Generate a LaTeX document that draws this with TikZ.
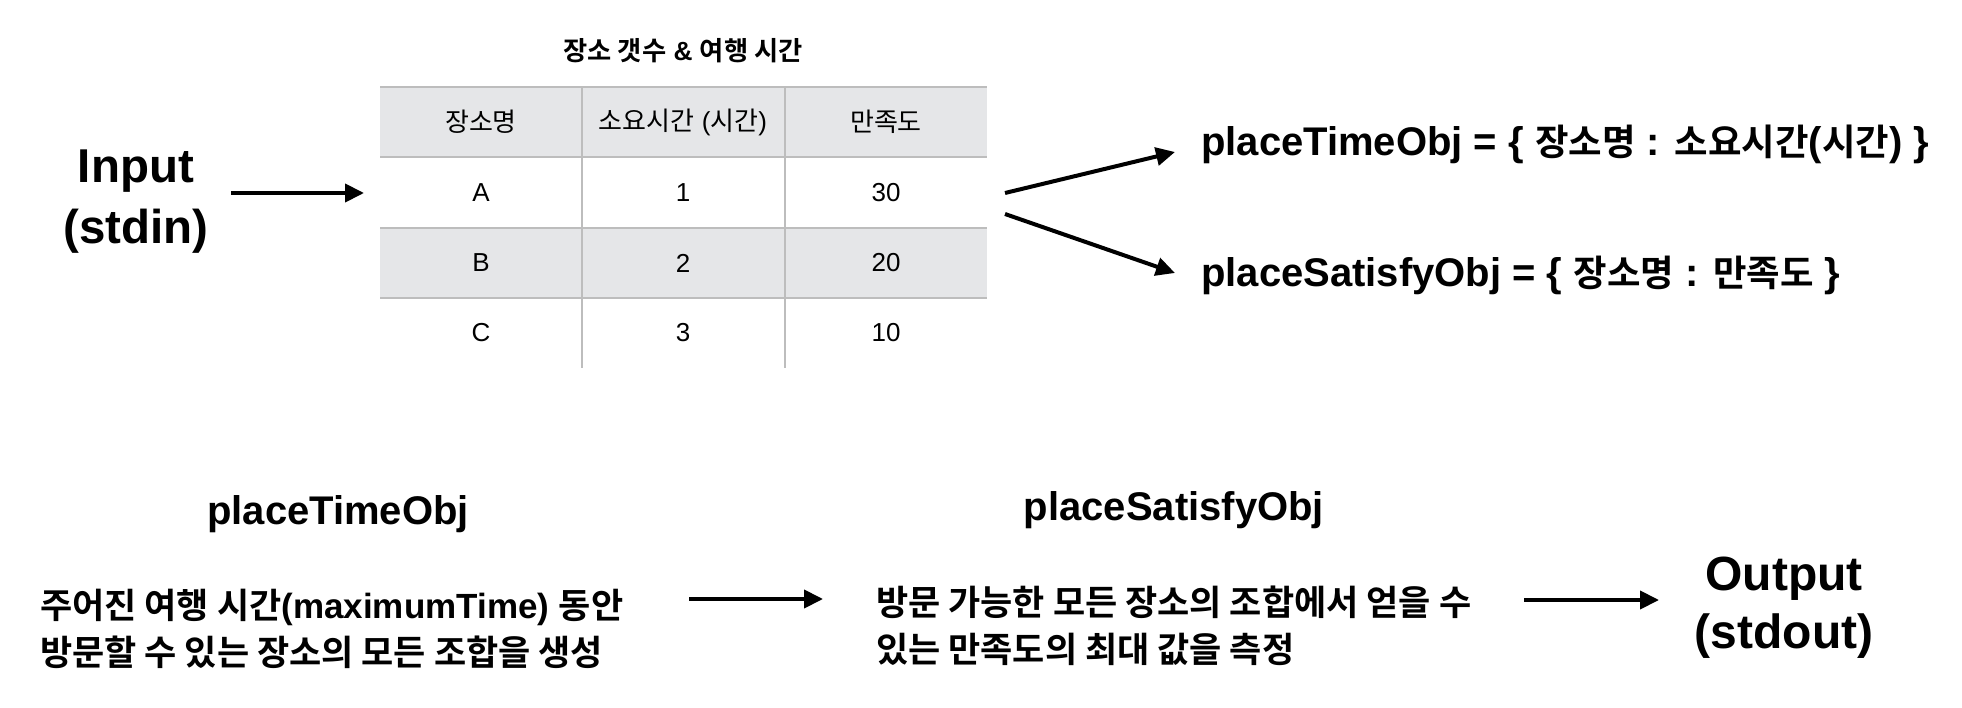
\documentclass[tikz,border=0pt]{standalone}
\usepackage{fontspec}
\setmainfont{Liberation Sans}
\newfontfamily\krfont{Noto Sans CJK KR}[BoldFont={Noto Sans CJK KR Bold}]
\newfontfamily\krfontS{Noto Sans CJK KR}[Scale=0.91,BoldFont={Noto Sans CJK KR Bold}]
\newcommand\KR[1]{{\krfont #1}}
\newcommand\KRs[1]{{\krfontS #1}}
\usetikzlibrary{arrows.meta}
\definecolor{gridc}{HTML}{BDBDBD}
\definecolor{rowc}{HTML}{E5E6E8}
\begin{document}
\begin{tikzpicture}[x=1pt,y=-1pt,
  arr/.style={line width=4pt,-{Triangle[length=19pt,width=18pt]}},
  grid/.style={draw=gridc,line width=2.5pt},
  io/.style={inner sep=0pt,align=center},
  head/.style={inner sep=0pt,font=\bfseries\fontsize{40}{48}\selectfont},
  body/.style={inner sep=0pt,align=left,font=\bfseries\fontsize{35}{47}\selectfont},
  cell/.style={inner sep=0pt,font=\fontsize{26}{31}\selectfont},
  ttl/.style={inner sep=0pt,font=\bfseries\fontsize{26.3}{31}\selectfont}]
\useasboundingbox (0,0) rectangle (1962,708);
\fill[white] (0,0) rectangle (1962,708);

% Input
\node[io,font=\bfseries\fontsize{47.5}{61}\selectfont] (input) at (136,202) {Input\\(stdin)};

% Table
\node[ttl] (title) at (683,51) {\KR{장소 갯수} \& \KR{여행 시간}};
\fill[rowc] (380,87) rectangle (987,157);
\fill[rowc] (380,228) rectangle (987,298);
\draw[grid] (380,87) -- (987,87);
\draw[grid] (380,157) -- (987,157);
\draw[grid] (380,228) -- (987,228);
\draw[grid] (380,298) -- (987,298);
\draw[grid] (582,87) -- (582,368);
\draw[grid] (785,87) -- (785,368);
\node[cell] (h1) at (481,122) {\KR{장소명}};
\node[cell] (h2) at (683,122) {\KR{소요시간} (\KR{시간})};
\node[cell] (h3) at (886,122) {\KR{만족도}};
\node[cell] (a1) at (481,193) {A};
\node[cell] (a2) at (683,193) {1};
\node[cell] (a3) at (886,193) {30};
\node[cell] (b1) at (481,263) {B};
\node[cell] (b2) at (683,263) {2};
\node[cell] (b3) at (886,263) {20};
\node[cell] (c1) at (481,333) {C};
\node[cell] (c2) at (683,333) {3};
\node[cell] (c3) at (886,333) {10};

% Objects
\node[head,anchor=west] (pto) at (1201,144) {placeTimeObj = \{ \KRs{장소명} : \KRs{소요시간}(\KRs{시간}) \}};
\node[head,anchor=west] (pso) at (1201,275) {placeSatisfyObj = \{ \KRs{장소명} : \KRs{만족도} \}};

% arrows top
\coordinate (inS) at (231,193);
\coordinate (inE) at (364,193);
\draw[arr] (inS) -- (inE);
\coordinate (splitA) at (1005,193);
\coordinate (splitB) at (1005,214);
\coordinate (ptoE) at (1175,152);
\coordinate (psoE) at (1175,273);
\draw[arr] (splitA) -- (ptoE);
\draw[arr] (splitB) -- (psoE);

% Bottom
\node[head] (bto) at (338,514) {placeTimeObj};
\node[head] (bso) at (1174,510) {placeSatisfyObj};
\node[body,anchor=west] (txt1) at (40,629) {\KR{주어진 여행 시간}(maximumTime) \KR{동안}\\\KR{방문할 수 있는 장소의 모든 조합을 생성}};
\node[body,anchor=west] (txt2) at (876,626) {\KR{방문 가능한 모든 장소의 조합에서 얻을 수}\\\KR{있는 만족도의 최대 값을 측정}};
\node[io,font=\bfseries\fontsize{48}{58}\selectfont] (output) at (1784,608) {Output\\(stdout)};

\coordinate (m1S) at (689,599);
\coordinate (m1E) at (823,599);
\draw[arr] (m1S) -- (m1E);
\coordinate (m2S) at (1524,600);
\coordinate (m2E) at (1659,600);
\draw[arr] (m2S) -- (m2E);
\end{tikzpicture}
\end{document}
